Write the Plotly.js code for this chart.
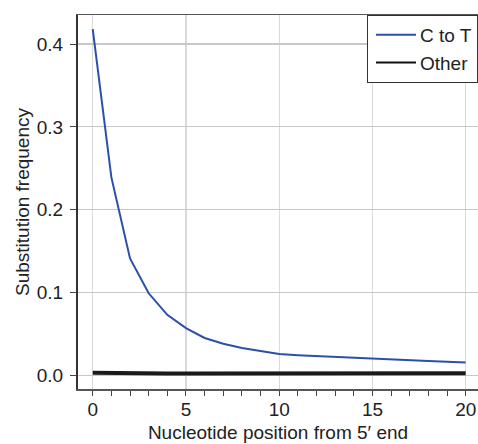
<!DOCTYPE html>
<html>
<head>
<meta charset="utf-8">
<script src="https://cdn.plot.ly/plotly-3.0.1.min.js"></script>
<style>html,body{margin:0;padding:0;background:#fff;overflow:hidden;width:478px;height:444px}#chart{width:520px;height:444px}</style>
</head>
<body>
<div id="chart"></div>
<script>
const positions = [0,1,2,3,4,5,6,7,8,9,10,11,12,13,14,15,16,17,18,19,20];
const cToT = [0.418,0.239,0.141,0.099,0.073,0.057,0.045,0.038,0.033,0.029,0.0256,0.0243,0.0232,0.0219,0.0207,0.0196,0.0188,0.018,0.0172,0.0163,0.0155];
const other = [0.0029,0.0025,0.0023,0.0022,0.0022,0.0022,0.0022,0.0022,0.0023,0.0023,0.0023,0.0023,0.0023,0.0023,0.0023,0.0023,0.0023,0.0023,0.0023,0.0023,0.0023];
const xTicks = [0,5,10,15,20];
const yTicks = [0,0.1,0.2,0.3,0.4];
const seriesNames = ['C to T','Other'];

const fam = '"Liberation Sans", Arial, Helvetica, sans-serif';
const txt = {family:fam, size:19, color:'#222'};

const traces = [
  {x:positions, y:other, name:seriesNames[1], mode:'lines', line:{color:'#1a1a1a', width:4}, showlegend:false},
  {x:positions, y:cToT, name:seriesNames[0], mode:'lines', line:{color:'#2b50aa', width:2}},
  {x:[null], y:[null], name:seriesNames[1], mode:'lines', line:{color:'#111', width:2}}
];

const layout = {
  width:520, height:444,
  margin:{l:78, r:42, t:15, b:55},
  paper_bgcolor:'#fff', plot_bgcolor:'#fff',
  font:txt,
  showlegend:true,
  legend:{x:0.7225, y:1, xanchor:'left', yanchor:'top', bgcolor:'#fff', bordercolor:'#333', borderwidth:1,
          font:txt, tracegroupgap:0, itemwidth:42},
  xaxis:{
    range:[-0.79, 20.66], tickvals:xTicks, ticktext:xTicks.map(String),
    showline:true, linecolor:'#555', linewidth:1.5, mirror:true,
    ticks:'outside', ticklen:5, tickcolor:'#444', tickwidth:1,
    minor:{dtick:1, tick0:0, ticks:'outside', ticklen:5, tickcolor:'#444', showgrid:false},
    showgrid:true, gridcolor:'#dadada', gridwidth:1.2, zeroline:false,
    ticklabelstandoff:-2,
    title:{text:'Nucleotide position from 5\u2032 end', font:txt, standoff:6},
    tickfont:txt
  },
  yaxis:{
    range:[-0.0166, 0.4351], tickvals:yTicks, tickformat:'.1f',
    showline:true, linecolor:'#333', linewidth:2,
    ticks:'outside', ticklen:6, tickcolor:'#444', tickwidth:1,
    showgrid:true, gridcolor:'#c8c8c8', gridwidth:1.2, zeroline:false,
    ticklabelstandoff:3,
    title:{text:'Substitution frequency', font:txt, standoff:2},
    tickfont:txt
  }
};

function stretchLegendLines(){
  document.querySelectorAll('#chart .legend .traces path').forEach(function(p){
    var d = p.getAttribute('d') || '';
    if (/^M5,0h30/.test(d) || p.classList.contains('js-line')) p.setAttribute('d','M8,0h40');
  });
}
const gd = document.getElementById('chart');
Plotly.newPlot(gd, traces, layout, {displayModeBar:false, staticPlot:true}).then(function(){
  stretchLegendLines();
  gd.on('plotly_afterplot', stretchLegendLines);
  setTimeout(stretchLegendLines, 50);
  setTimeout(stretchLegendLines, 300);
});
</script>
</body>
</html>
